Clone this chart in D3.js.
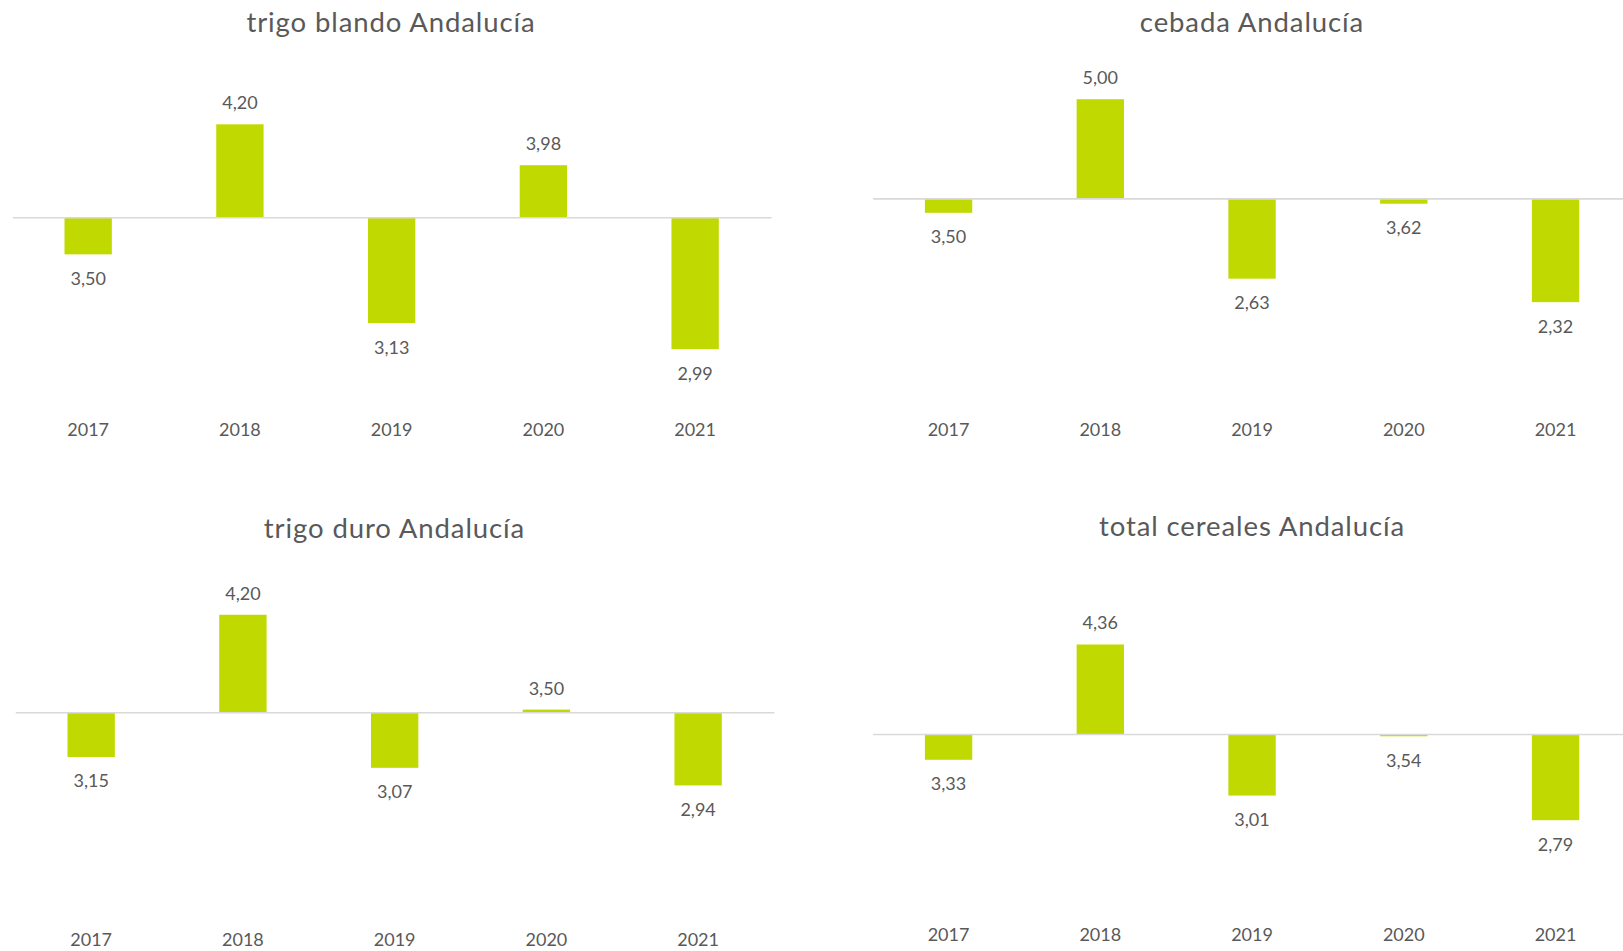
<!DOCTYPE html>
<html lang="es">
<head>
<meta charset="utf-8">
<title>Rendimientos de cereales en Andalucía</title>
<script src="https://cdn.jsdelivr.net/npm/d3@7"></script>
<style>
  html, body { margin: 0; padding: 0; background: #ffffff; }
  svg { display: block; }
  text { font-family: Lato, "Open Sans", "Liberation Sans", sans-serif; fill: #595959; }
</style>
</head>
<body>
<svg id="chart" width="1623" height="951"></svg>
<script>
// Campañas
const years = ["2017", "2018", "2019", "2020", "2021"];

// Valores por cultivo
const trigoBlando   = [3.50, 4.20, 3.13, 3.98, 2.99];
const cebada        = [3.50, 5.00, 2.63, 3.62, 2.32];
const trigoDuro     = [3.15, 4.20, 3.07, 3.50, 2.94];
const totalCereales = [3.33, 4.36, 3.01, 3.54, 2.79];

// Títulos de cada gráfico
const titles = [
  "trigo blando Andalucía",
  "cebada Andalucía",
  "trigo duro Andalucía",
  "total cereales Andalucía"
];

// Valor en el que el eje horizontal corta al vertical (origen de las barras)
const axisCross = [3.70, 3.69, 3.48, 3.56];

// Límites del eje vertical (oculto) de cada gráfico
const yMin = [2.77, 1.16, 2.205, 2.211];
const yMax = [4.60, 5.65, 4.715, 5.249];

const series = [trigoBlando, cebada, trigoDuro, totalCereales];

// Disposición de los cuatro paneles
const panels = [
  { x0: 12.3,  x1: 771.0,  top: 50,  bottom: 390, titleX: 391,   titleY: 32.3,  catY: 435.8 },
  { x0: 872.7, x1: 1631.4, top: 50,  bottom: 390, titleX: 1252,  titleY: 32.0,  catY: 435.5 },
  { x0: 15.3,  x1: 774.0,  top: 545, bottom: 885, titleX: 394.5, titleY: 537.5, catY: 946.2 },
  { x0: 872.7, x1: 1631.4, top: 545, bottom: 885, titleX: 1252,  titleY: 536.0, catY: 941.2 }
];

const barColor = "#C0D900";
const axisColor = "#D9D9D9";

const esLocale = d3.formatLocale({ decimal: ",", thousands: ".", grouping: [3], currency: ["", " €"] });
const fmt = esLocale.format(".2f");

const svg = d3.select("#chart");
svg.append("rect").attr("width", 1623).attr("height", 951).attr("fill", "#ffffff");

panels.forEach((p, i) => {
  const values = series[i];
  const cross = axisCross[i];

  const x = d3.scaleBand()
    .domain(years)
    .range([p.x0, p.x1])
    .paddingInner(0.688)
    .paddingOuter(0.344);

  const y = d3.scaleLinear()
    .domain([yMin[i], yMax[i]])
    .range([p.bottom, p.top]);

  const g = svg.append("g").attr("class", "panel");

  // Título
  g.append("text")
    .attr("x", p.titleX)
    .attr("y", p.titleY)
    .attr("text-anchor", "middle")
    .style("font-size", "27.5px")
    .style("letter-spacing", "0.9px")
    .text(titles[i]);

  const data = years.map((yr, j) => ({ year: yr, value: values[j] }));

  // Barras desde el punto de corte del eje
  g.selectAll("rect.bar")
    .data(data)
    .join("rect")
    .attr("class", "bar")
    .attr("x", d => x(d.year))
    .attr("width", x.bandwidth())
    .attr("y", d => y(Math.max(d.value, cross)))
    .attr("height", d => Math.abs(y(d.value) - y(cross)))
    .attr("fill", barColor);

  // Eje horizontal
  const xAxis = d3.axisBottom(x).tickSize(0).tickFormat("");
  const axisG = g.append("g")
    .attr("transform", `translate(0,${y(cross)})`)
    .call(xAxis);
  axisG.select(".domain")
    .attr("stroke", axisColor)
    .attr("stroke-width", 1.6);

  // Etiquetas de categoría
  g.selectAll("text.cat")
    .data(years)
    .join("text")
    .attr("class", "cat")
    .attr("x", d => x(d) + x.bandwidth() / 2)
    .attr("y", p.catY)
    .attr("text-anchor", "middle")
    .style("font-size", "18px")
    .text(d => d);

  // Etiquetas de valor
  g.selectAll("text.val")
    .data(data)
    .join("text")
    .attr("class", "val")
    .attr("x", d => x(d.year) + x.bandwidth() / 2)
    .attr("y", d => d.value >= cross ? y(d.value) - 15 : y(d.value) + 30.5)
    .attr("text-anchor", "middle")
    .style("font-size", "18px")
    .text(d => fmt(d.value));
});
</script>
</body>
</html>
